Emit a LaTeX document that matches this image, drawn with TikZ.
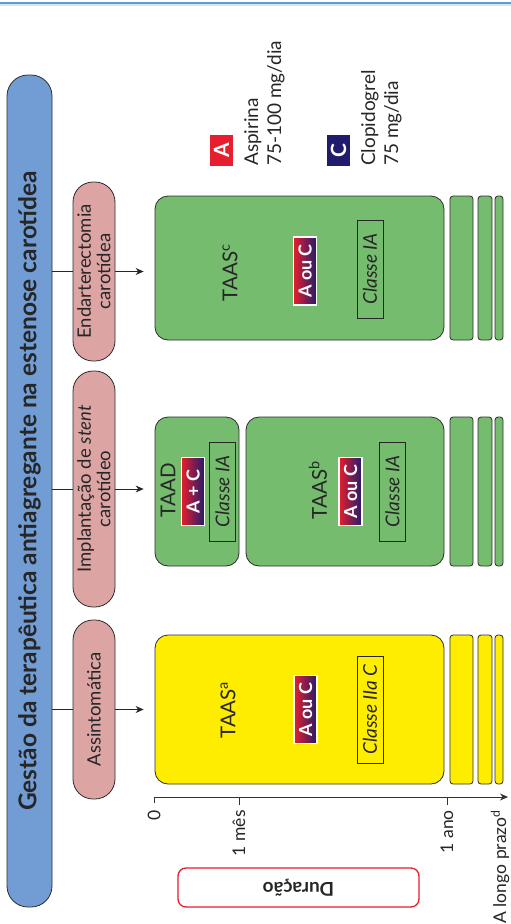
\documentclass[tikz,border=0pt]{standalone}
\usepackage{fontspec}
\setmainfont{Lato}
\usetikzlibrary{calc,arrows.meta}
\definecolor{titleblue}{RGB}{114,157,212}
\definecolor{rosa}{RGB}{221,164,164}
\definecolor{verde}{RGB}{117,188,111}
\definecolor{amarelo}{RGB}{255,237,0}
\definecolor{vermelho}{RGB}{230,30,45}
\definecolor{marinho}{RGB}{33,27,110}
\definecolor{contorno}{RGB}{45,45,45}
\definecolor{linha}{RGB}{91,155,213}

\begin{document}
\begin{tikzpicture}
		[x=1pt,y=-1pt]
		\tikzstyle{titulo}=[draw=contorno, fill=titleblue, rounded corners=21pt, rotate=90,
		line width=0.8pt, inner sep=0pt, text=black!85, font=\fontsize{24.5}{28}\selectfont\bfseries]
		\tikzstyle{indicacao}=[draw=contorno, fill=rosa, rounded corners=20pt, rotate=90,
		line width=0.8pt, inner sep=0pt, minimum height=42pt, align=center, text=black!85,
		font=\fontsize{18.5}{19.5}\selectfont]
		\tikzstyle{terapia}=[draw=contorno, rounded corners=13pt, line width=0.8pt, inner sep=0pt]
		\tikzstyle{faixa}=[draw=contorno, rounded corners=3pt, line width=0.8pt]
		\tikzstyle{rotulo}=[rotate=90, inner sep=0pt, text=black!85, font=\fontsize{20.5}{24}\selectfont]
		\tikzstyle{combo}=[rotate=90, draw=white, line width=1.2pt, left color=vermelho,
		right color=marinho, text=white, inner sep=0pt, minimum width=68pt, minimum height=23pt,
		font=\fontsize{18}{20}\selectfont\bfseries]
		\tikzstyle{classe}=[rotate=90, draw=black!85, line width=0.9pt, inner sep=0pt,
		minimum height=26pt, text=black!85, font=\fontsize{19}{22}\selectfont\itshape]
		\tikzstyle{marca}=[rotate=90, anchor=east, inner sep=0pt, text=black!85,
		font=\fontsize{17.5}{20}\selectfont]
		\tikzstyle{eixo}=[draw=black!80, line width=0.9pt]
		\tikzstyle{seta}=[draw=black!85, line width=0.8pt]
		\tikzstyle{chave}=[rotate=90, inner sep=0pt, minimum width=31pt, minimum height=23pt,
		text=white, font=\fontsize{21}{22}\selectfont\bfseries]
		\tikzstyle{legenda}=[rotate=90, anchor=north west, inner sep=0pt, align=left,
		text=black!85, font=\fontsize{19}{23}\selectfont]

		\useasboundingbox (0,0) rectangle (511,924);
		\draw[linha!25, line width=3pt] (0,4.5) -- (511,4.5);
		\draw[linha, line width=1.3pt] (0,3) -- (511,3);

		%-----titulo e indicacoes
		\node[titulo, minimum width=832pt, minimum height=45pt] (gestao) at (29.5,491)
		 {Gestão da terapêutica antiagregante na estenose carotídea};
		\node[indicacao, minimum width=179pt] (assint) at (94,709.5) {Assintomática};
		\node[indicacao, minimum width=236pt] (stent) at (94,489) {Implantação de \textit{stent}\\carotídeo};
		\node[indicacao, minimum width=179pt] (endart) at (94,271.5) {Endarterectomia\\carotídea};

		%-----terapias
		\node[terapia, fill=verde, minimum width=289pt, minimum height=144pt] (taasC) at (299.5,268) {};
		\node[terapia, fill=verde, minimum width=84pt, minimum height=149pt] (taad) at (197,491.5) {};
		\node[terapia, fill=verde, minimum width=198pt, minimum height=149pt] (taasB) at (345,491.5) {};
		\node[terapia, fill=amarelo, minimum width=289pt, minimum height=149pt] (taasA) at (299.5,709.5) {};

		\foreach \ya/\yb/\cor in {196/340/verde,417/566/verde,635/784/amarelo}
		 \foreach \xa/\xb in {450/473,478/492,495/503}
		  \draw[faixa, fill=\cor] (\xa,\ya) rectangle (\xb,\yb);

		\foreach \ind/\ter in {assint/taasA,stent/taad,endart/taasC}{
		 \draw[seta] (gestao.south |- \ind.north) -- (\ind.north);
		 \draw[seta, -{Stealth[length=8pt,width=7pt]}] (\ind.south) -- ($(\ind.south -| \ter.west)+(-11,0)$);
		}

		\node[rotulo] (lbC) at (230,273) {TAAS\textsuperscript{c}};
		\node[combo] (acC) at (305,271) {A ou C};
		\node[classe, minimum width=98pt] (clC) at (370,269) {Classe IA};

		\node[rotulo] (lbD) at (168,490) {TAAD};
		\node[combo] (acD) at (193,491.5) {A + C};
		\node[classe, minimum width=99pt] (clD) at (222.5,491.5) {Classe IA};

		\node[rotulo] (lbB) at (318,490) {TAAS\textsuperscript{b}};
		\node[combo] (acB) at (350.5,491.5) {A ou C};
		\node[classe, minimum width=99pt] (clB) at (392.5,491.5) {Classe IA};

		\node[rotulo] (lbA) at (228,710) {TAAS\textsuperscript{a}};
		\node[combo] (acA) at (305.5,709.5) {A ou C};
		\node[classe, minimum width=107pt] (clA) at (370,709.5) {Classe IIa C};

		%-----duracao
		\coordinate (t0) at (154,797);
		\coordinate (t1) at (239,797);
		\coordinate (t2) at (447,797);
		\coordinate (tf) at (508,797);
		\draw[eixo, -{Stealth[length=8pt,width=7pt]}] ($(t0)+(0,6)$) -- (t0) -- (tf);
		\foreach \t in {t1,t2}
		 \draw[eixo] (\t) -- ++(0,8);
		\node[marca] (m0) at ($(t0)+(0,13)$) {0};
		\node[marca] (m1) at ($(t1)+(0,13)$) {1 mês};
		\node[marca] (m2) at ($(t2)+(0,13)$) {1 ano};
		\node[marca] (mf) at (500,810) {A longo prazo\textsuperscript{d}};
		\node[draw=vermelho, line width=1.3pt, rounded corners=8pt, rotate=180, fill=white,
		 minimum width=241pt, minimum height=39pt, text=black!85,
		 font=\fontsize{19}{22}\selectfont\bfseries] (dur) at (298.5,887.5) {Duração};

		%-----legenda
		\node[chave, fill=vermelho] (keyA) at (221.5,150.5) {A};
		\node[legenda] (txtA) at (244,166) {Aspirina\\75-100 mg/dia};
		\node[chave, fill=marinho] (keyC) at (338.5,150.5) {C};
		\node[legenda] (txtC) at (361,166) {Clopidogrel\\75 mg/dia};
\end{tikzpicture}
\end{document}
